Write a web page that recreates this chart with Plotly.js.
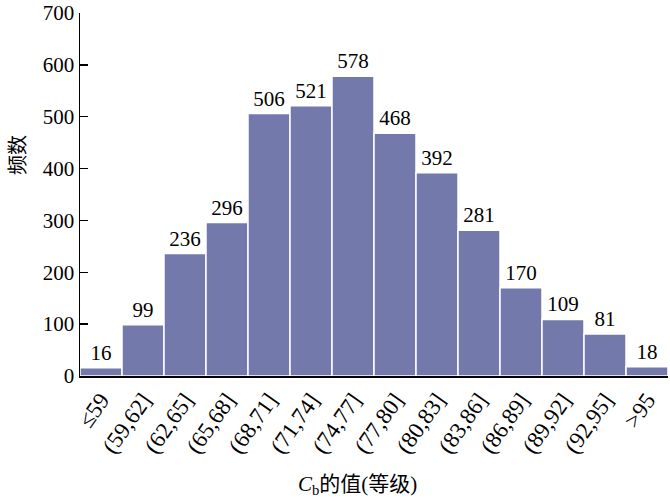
<!DOCTYPE html>
<html><head><meta charset="utf-8">
<script src="https://cdn.plot.ly/plotly-3.0.1.min.js"></script>
<style>body{margin:0;padding:0;background:#fff}#c{width:670px;height:503px}</style>
</head><body><div id="c"></div>
<script>
const categories = ["≤59","(59,62]","(62,65]","(65,68]","(68,71]","(71,74]","(74,77]","(77,80]","(80,83]","(83,86]","(86,89]","(89,92]","(92,95]",">95"];
const counts = [16,99,236,296,506,521,578,468,392,281,170,109,81,18];
const yTicks = [0,100,200,300,400,500,600,700];

const serif = "Liberation Serif";

const trace = {
  type: 'bar', x: categories, y: counts,
  text: counts.map(String), textposition: 'outside', cliponaxis: false,
  textfont: {family: serif, size: 21, color: '#000'},
  marker: {color: '#7479ab', line: {color: '#ffffff', width: 1.5}},
  hoverinfo: 'none'
};

const layout = {
  width: 670, height: 503,
  margin: {l: 80, r: 2, t: 13, b: 127},
  paper_bgcolor: '#fff', plot_bgcolor: '#fff',
  bargap: 0,
  showlegend: false,
  font: {family: serif, color: '#000'},
  xaxis: {
    type: 'category', tickangle: -55, ticks: '', showgrid: false,
    showline: true, linecolor: '#000', linewidth: 1.5,
    tickfont: {family: serif, size: 23, color: '#000'},
    zeroline: false, range: [-0.5, 13.5]
  },
  yaxis: {
    range: [0, 700], tickvals: yTicks, ticktext: yTicks.map(String),
    ticks: 'inside', ticklen: 8, tickwidth: 1.5, tickcolor: '#000',
    showline: true, linecolor: '#000', linewidth: 1.5,
    showgrid: false, zeroline: false, ticklabeloverflow: 'allow',
    tickfont: {family: serif, size: 21, color: '#000'}
  },
  annotations: [
    {text: '频数', xref: 'paper', yref: 'paper', x: -0.108, y: 0.61, xanchor: 'center', yanchor: 'middle',
     textangle: -90, showarrow: false, font: {family: "Noto Sans CJK SC", size: 20, color: '#000'}},
    {text: '<i>C</i><sub>b</sub>的值(等级)', xref: 'paper', yref: 'paper', x: 0.472, y: -0.30,
     xanchor: 'center', yanchor: 'middle', showarrow: false,
     font: {family: "Liberation Serif, Noto Sans CJK SC", size: 21, color: '#000'}}
  ]
};

Plotly.newPlot('c', [trace], layout, {displayModeBar: false, staticPlot: true});
</script></body></html>
